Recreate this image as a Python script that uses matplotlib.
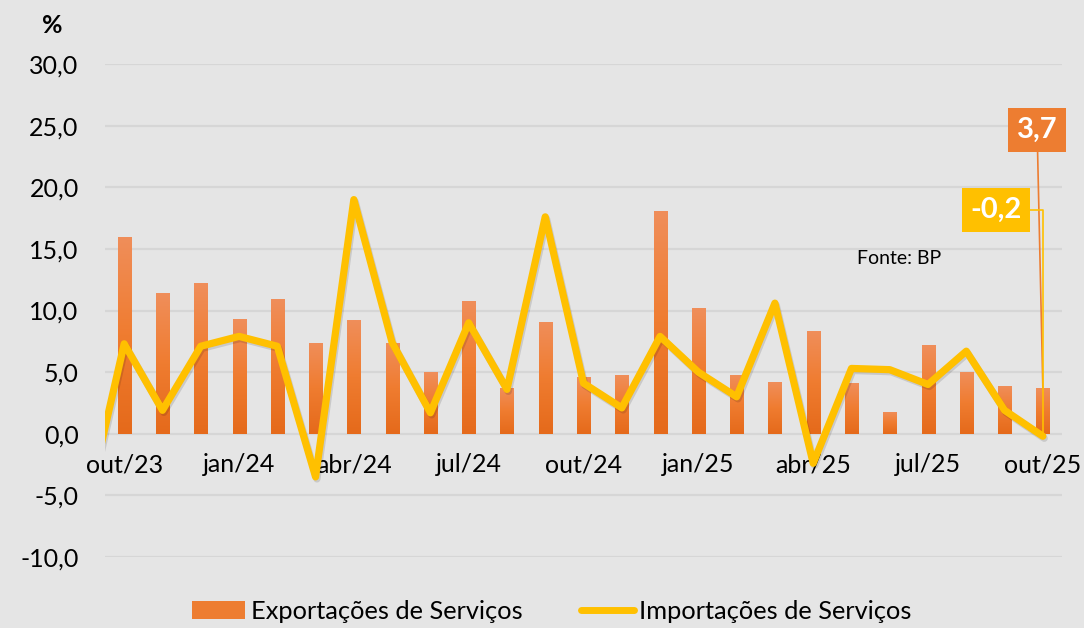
import numpy as np
import matplotlib
matplotlib.use("Agg")
import matplotlib.pyplot as plt
import matplotlib.patheffects as pe
from matplotlib.colors import LinearSegmentedColormap
from matplotlib.patches import Patch
from matplotlib.lines import Line2D

plt.rcParams['font.family'] = ['Lato', 'DejaVu Sans']

# months out/23 .. out/25
months = ['out/23', 'nov/23', 'dez/23', 'jan/24', 'fev/24', 'mar/24', 'abr/24',
          'mai/24', 'jun/24', 'jul/24', 'ago/24', 'set/24', 'out/24', 'nov/24',
          'dez/24', 'jan/25', 'fev/25', 'mar/25', 'abr/25', 'mai/25', 'jun/25',
          'jul/25', 'ago/25', 'set/25', 'out/25']
exports = [16.0, 11.4, 12.2, 9.3, 10.9, 7.4, 9.2, 7.4, 5.0, 10.8, 3.7, 9.1,
           4.6, 4.8, 18.1, 10.2, 4.8, 4.2, 8.3, 4.1, 1.8, 7.2, 5.0, 3.9, 3.7]
# imports: first value is set/23, only partly visible at the left edge
imports_prev = -6.3
imports = [7.3, 1.9, 7.1, 7.9, 7.1, -3.5, 19.0, 7.4, 1.7, 9.0, 3.6, 17.6,
           4.1, 2.1, 7.9, 5.0, 3.0, 10.6, -2.4, 5.3, 5.2, 4.0, 6.7, 1.9, -0.2]
yticks = [-10, -5, 0, 5, 10, 15, 20, 25, 30]

BG = '#E5E5E5'
ORANGE = '#ED7D31'
YELLOW = '#FFC000'

fig = plt.figure(figsize=(10.84, 6.28), dpi=100, facecolor=BG)
ax = fig.add_axes([0.0969, 0.1131, 0.8828, 0.7849], facecolor=BG)

x = np.arange(len(months))

# bars with a vertical gradient
bars = ax.bar(x, exports, width=0.34, color='none', edgecolor='none', zorder=2)
grad = np.linspace(0, 1, 100).reshape(-1, 1)
cmap = LinearSegmentedColormap.from_list('bar', ['#E56A1B', '#EF7C30', '#F08E5A'])
for p in bars:
    x0, y0 = p.get_xy()
    w, h = p.get_width(), p.get_height()
    im = ax.imshow(grad, extent=[x0, x0 + w, y0, y0 + h], origin='lower',
                   cmap=cmap, aspect='auto', zorder=2)
    im.set_clip_path(p)

# line
lx = np.concatenate([[-1], x])
ly = [imports_prev] + imports
ax.plot(lx, ly, color=YELLOW, lw=5.2, solid_joinstyle='round', solid_capstyle='round',
        zorder=3,
        path_effects=[pe.SimpleLineShadow(offset=(1, -1.5), shadow_color='k', alpha=0.12),
                      pe.Normal()])

ax.set_xlim(-0.5, len(months) - 0.5)
ax.set_ylim(-10, 30)
ax.set_yticks(yticks)
ax.set_yticklabels([f'{v:.1f}'.replace('.', ',') for v in yticks], fontsize=18)
ax.grid(axis='y', color='#D6D6D6', lw=1.6, zorder=0)
ax.set_axisbelow(True)
for s in ax.spines.values():
    s.set_visible(False)
ax.spines['bottom'].set_position(('data', 0))
ax.set_xticks(x[::3])
ax.set_xticklabels(months[::3], fontsize=18)
ax.tick_params(axis='both', length=0)
ax.tick_params(axis='y', pad=19)
ax.tick_params(axis='x', pad=14)

fig.text(0.048, 0.96, '%', fontsize=18, fontweight='bold', ha='center', va='center')
ax.text(0.786, 0.606, 'Fonte: BP', transform=ax.transAxes, fontsize=14,
        ha='left', va='center')

# data labels for the last month
last = len(months) - 1
ax.annotate(f'{exports[last]:.1f}'.replace('.', ','), xy=(last, exports[last]),
            xytext=(0.974, 0.866), textcoords='axes fraction',
            ha='center', va='center', fontsize=21, fontweight='bold', color='white',
            bbox=dict(boxstyle='square,pad=0.3', fc=ORANGE, ec='none'),
            arrowprops=dict(arrowstyle='-', color=ORANGE, lw=1.2, shrinkA=0, shrinkB=0),
            zorder=5)
ax.annotate(f'{imports[last]:.1f}'.replace('.', ','), xy=(last, imports[last]),
            xytext=(0.931, 0.704), textcoords='axes fraction',
            ha='center', va='center', fontsize=21, fontweight='bold', color='white',
            bbox=dict(boxstyle='square,pad=0.3', fc=YELLOW, ec='none'),
            arrowprops=dict(arrowstyle='-', color=YELLOW, lw=1.2, shrinkA=0, shrinkB=0,
                            connectionstyle='angle,angleA=0,angleB=90,rad=0'),
            zorder=5)

handles = [Patch(facecolor=ORANGE, edgecolor='none'),
           Line2D([0], [0], color=YELLOW, lw=5, solid_capstyle='round')]
fig.legend(handles, ['Exportações de Serviços', 'Importações de Serviços'],
           loc='center', bbox_to_anchor=(0.509, 0.027), ncol=2, frameon=False,
           fontsize=18.3, handlelength=2.1, handletextpad=0.2, columnspacing=2.3)

fig.savefig('out.png', dpi=100, facecolor=BG)
